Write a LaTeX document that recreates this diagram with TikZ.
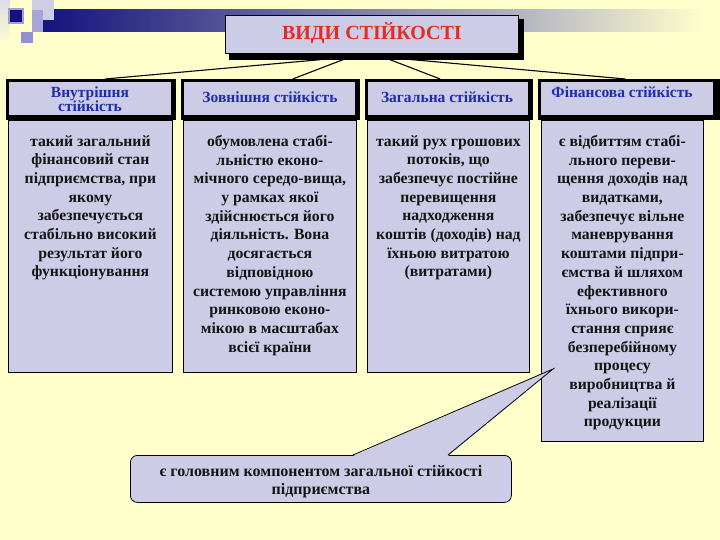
\documentclass[tikz,border=0pt]{standalone}
\usepackage{fontspec}
\setmainfont{Liberation Serif}
\definecolor{bg}{RGB}{255,255,204}
\definecolor{lav}{RGB}{204,204,230}
\definecolor{navy}{RGB}{20,20,125}
\definecolor{barmid}{RGB}{85,85,150}
\definecolor{barlight}{RGB}{180,180,195}
\definecolor{ttl}{RGB}{225,45,35}
\definecolor{hdr}{RGB}{30,45,175}
\definecolor{sqa}{RGB}{220,220,232}
\definecolor{sqb}{RGB}{205,205,228}
\definecolor{sqc}{RGB}{165,165,215}
\definecolor{sqd}{RGB}{145,145,210}
\definecolor{sqe}{RGB}{160,160,215}
\begin{document}
\begin{tikzpicture}[x=1pt,y=-1pt,
  box/.style={draw=black, line width=0.8pt, fill=lav, inner sep=0pt, anchor=north west},
  shadowbox/.style={fill=black, inner sep=0pt, anchor=north west},
  innerbox/.style={fill=lav, inner sep=0pt, anchor=north west},
  hdrtext/.style={font=\fontsize{15.5}{14.5}\selectfont\bfseries, text=hdr, align=center, inner sep=0pt},
  bodytext/.style={font=\fontsize{15.7}{18.7}\selectfont\bfseries, text=black!92, align=center, anchor=north, inner sep=0pt},
  link/.style={draw=black, line width=1.1pt}]
% background
\fill[bg] (0,0) rectangle (720,540);
\useasboundingbox (0,0) rectangle (720,540);
% decoration top left
\shade[left color=navy, right color=barmid] (43,10) rectangle (230,32);
\shade[left color=barmid, right color=barlight] (230,10) rectangle (520,32);
\shade[left color=barlight, right color=bg] (520,10) rectangle (705,32);
\shade[top color=sqa, bottom color=bg] (0,0) rectangle (10,44);
\fill[sqb] (32,0) rectangle (54,20);
\fill[sqc] (32,10) rectangle (43,32);
\fill[sqd] (21,32) rectangle (33,43);
\fill[sqe] (8,8) rectangle (24,24);
\fill[navy] (10,10) rectangle (22,22);
% connector origins (hidden under title)
\coordinate (o1) at (350,57);
\coordinate (o2) at (383,57);
% headers
\node[shadowbox, minimum width=170pt, minimum height=41pt] (h1) at (6,79) {};
\node[shadowbox, minimum width=179pt, minimum height=41pt] (h2) at (181,79) {};
\node[shadowbox, minimum width=168pt, minimum height=41pt] (h3) at (365,79) {};
\node[shadowbox, minimum width=182pt, minimum height=41pt] (h4) at (538,79) {};
\node[innerbox, minimum width=162pt, minimum height=33pt] at (9,82) {};
\node[innerbox, minimum width=171pt, minimum height=33pt] at (184,82) {};
\node[innerbox, minimum width=160pt, minimum height=33pt] at (368,82) {};
\node[innerbox, minimum width=172pt, minimum height=33pt] at (541,82) {};
\node[hdrtext] (h1t) at (90,99) {Внутрішня\\стійкість};
\node[hdrtext] (h2t) at (270,97) {Зовнішня стійкість};
\node[hdrtext] (h3t) at (447,97) {Загальна стійкість};
\node[hdrtext] (h4t) at (622,92) {Фінансова стійкість};
% connectors
\draw[link] (o1) -- ([xshift=14pt]h1.north);
\draw[link] (o1) -- ([xshift=22pt]h2.north);
\draw[link] (o2) -- ([xshift=-9pt]h3.north);
\draw[link] (o2) -- ([xshift=-4pt]h4.north);
% title
\node[shadowbox, minimum width=295pt, minimum height=41pt] (tsh) at (229,19) {};
\node[box, minimum width=293pt, minimum height=38pt] (title) at (225,15) {};
\node[font=\fontsize{20}{22}\selectfont\bfseries, text=ttl, inner sep=0pt] (ttext) at ([yshift=1pt]title.center) {ВИДИ СТІЙКОСТІ};
% content boxes
\node[box, minimum width=164pt, minimum height=252pt] (b1) at (8,120) {};
\node[box, minimum width=173pt, minimum height=252pt] (b2) at (183,120) {};
\node[box, minimum width=162pt, minimum height=252pt] (b3) at (367,120) {};
\node[box, minimum width=162pt, minimum height=321pt] (b4) at (541,120) {};
\node[bodytext] (t1) at ([yshift=-15pt]b1.north) {такий загальний\\фінансовий стан\\підприємства, при\\якому\\забезпечується\\стабільно високий\\результат його\\функціонування};
\node[bodytext] (t2) at ([yshift=-15pt]b2.north) {обумовлена стабі-\\льністю еконо-\\мічного середо-вища,\\у рамках якої\\здійснюється його\\діяльність. Вона\\досягається\\відповідною\\системою управління\\ринковою еконо-\\мікою в масштабах\\всієї країни};
\node[bodytext] (t3) at ([yshift=-15pt]b3.north) {такий рух грошових\\потоків, що\\забезпечує постійне\\перевищення\\надходження\\коштів (доходів) над\\їхньою витратою\\(витратами)};
\node[bodytext] (t4) at ([yshift=-15pt]b4.north) {є відбиттям стабі-\\льного переви-\\щення доходів над\\видатками,\\забезпечує вільне\\маневрування\\коштами підпри-\\ємства й шляхом\\ефективного\\їхнього викори-\\стання сприяє\\безперебійному\\процесу\\виробництва й\\реалізації\\продукции};
% callout
\node[box, rounded corners=7pt, minimum width=381pt, minimum height=47pt] (call) at (130,455) {};
\coordinate (tip) at (553,369);
\fill[lav] (353,456) -- (tip) -- (448,456) -- cycle;
\draw[line width=0.8pt] (353,455) -- (tip) -- (448,455);
\node[font=\fontsize{16}{18}\selectfont\bfseries, text=black!92, align=center, inner sep=0pt] (ctext) at ([yshift=-2.5pt]call.center) {є головним компонентом загальної стійкості\\підприємства};
\end{tikzpicture}
\end{document}
